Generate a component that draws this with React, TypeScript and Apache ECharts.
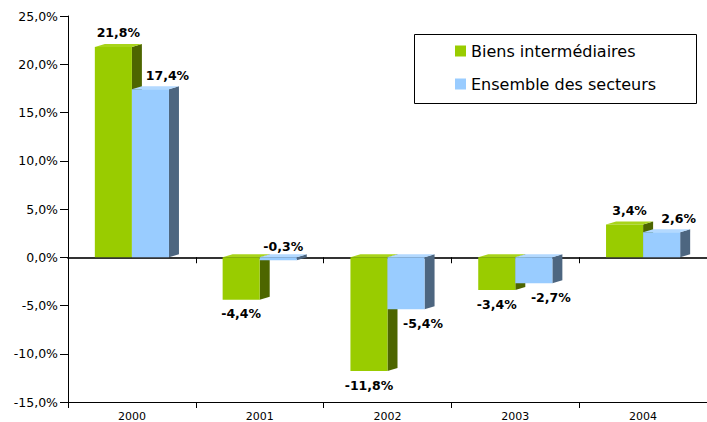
import React, { useEffect, useRef } from "react";
import * as echarts from "echarts";

const categories = ["2000", "2001", "2002", "2003", "2004"];
const seriesNames = ["Biens intermédiaires", "Ensemble des secteurs"];
const biensValues = [21.8, -4.4, -11.8, -3.4, 3.4];
const ensembleValues = [17.4, -0.3, -5.4, -2.7, 2.6];

const palettes = [
  { front: "#99CC00", side: "#4D6600", top: "#A8D41A" },
  { front: "#99CCFF", side: "#4D6680", top: "#B3D9FF" },
];

const fmt = (v: number) => v.toFixed(1).replace(".", ",") + "%";

function makeRender(si: number) {
  return (params: any, api: any) => {
    const idx = api.value(0);
    const val = api.value(1);
    const base = api.coord([idx, 0]);
    const end = api.coord([idx, val]);
    const catW = api.size([1, 0])[0];
    const w = catW * 0.29;
    const x0 = si === 0 ? base[0] - w : base[0];
    const x1 = x0 + w;
    const yTop = Math.min(base[1], end[1]);
    const yBot = Math.max(base[1], end[1]);
    const dx = 10;
    const dy = 3;
    const pal = palettes[si];
    const tiny = Math.abs(val) < 1;
    let lx = (x0 + x1 + dx) / 2;
    let ly: number;
    if (val >= 0 || tiny) {
      ly = yTop - 14;
      if (tiny) ly = base[1] - 11;
      else if (si === 1) lx += 12;
    } else {
      ly = yBot + 14;
      lx += si === 1 ? 12 : -5;
    }
    return {
      type: "group",
      children: [
        {
          type: "polygon",
          shape: { points: [[x1, yTop], [x1 + dx, yTop - dy], [x1 + dx, yBot - dy], [x1, yBot]] },
          style: { fill: pal.side },
        },
        {
          type: "polygon",
          shape: { points: [[x0, yTop], [x0 + dx, yTop - dy], [x1 + dx, yTop - dy], [x1, yTop]] },
          style: { fill: pal.top },
        },
        {
          type: "rect",
          shape: { x: x0, y: yTop, width: w, height: Math.max(yBot - yTop, 0.5) },
          style: { fill: pal.front },
        },
        {
          type: "text",
          style: {
            text: fmt(val),
            x: lx,
            y: ly,
            align: "center",
            verticalAlign: "middle",
            fontSize: 12.5,
            fontWeight: "bold",
            fontFamily: "DejaVu Sans",
            fill: "#000",
          },
        },
      ],
    };
  };
}

export default function App() {
  const ref = useRef<HTMLDivElement>(null);
  useEffect(() => {
    if (!ref.current) return;
    const chart = echarts.init(ref.current, undefined, { renderer: "svg" });
    const allValues = [biensValues, ensembleValues];
    chart.setOption({
      animation: false,
      backgroundColor: "#fff",
      textStyle: { fontFamily: "DejaVu Sans" },
      grid: { left: 68, right: -4, top: 16, bottom: 20, containLabel: false },
      legend: {
        orient: "vertical",
        left: 455,
        top: 41,
        padding: 0,
        itemWidth: 11,
        itemHeight: 11,
        itemGap: 13,
        icon: "rect",
        textStyle: { fontSize: 16, color: "#000", fontFamily: "DejaVu Sans", lineHeight: 20 },
        data: seriesNames,
      },
      graphic: [
        {
          type: "rect",
          left: 412,
          top: 32,
          shape: { width: 282, height: 69 },
          style: { fill: "none", stroke: "#000", lineWidth: 1 },
          silent: true,
        },
      ],
      xAxis: [
        {
          type: "category",
          data: categories,
          position: "bottom",
          axisLine: { onZero: false, lineStyle: { color: "#000", width: 1 } },
          axisTick: { show: true, length: 6, lineStyle: { color: "#000" } },
          axisLabel: { fontSize: 11, color: "#000", margin: 9, fontFamily: "DejaVu Sans" },
        },
        {
          type: "category",
          data: categories,
          position: "bottom",
          axisLine: { onZero: true, lineStyle: { color: "#333", width: 2 } },
          axisTick: { show: true, length: 6, lineStyle: { color: "#000" } },
          axisLabel: { show: false },
        },
      ],
      yAxis: {
        type: "value",
        min: -15,
        max: 25,
        interval: 5,
        axisLine: { show: true, lineStyle: { color: "#000" } },
        axisTick: { show: true, length: 8, lineStyle: { color: "#000" } },
        splitLine: { show: false },
        axisLabel: {
          formatter: (v: number) => fmt(v),
          fontSize: 12.5,
          color: "#000",
          margin: 10,
          fontFamily: "DejaVu Sans",
        },
      },
      series: seriesNames.map((name, si) => ({
        name,
        type: "custom",
        xAxisIndex: 0,
        yAxisIndex: 0,
        itemStyle: { color: palettes[si].front },
        renderItem: makeRender(si),
        encode: { x: 0, y: 1 },
        data: allValues[si].map((v, i) => [i, v]),
        z: 2 + si,
      })),
    });
    return () => chart.dispose();
  }, []);
  return <div ref={ref} style={{ width: 707, height: 422, position: "absolute", left: 0, top: 0 }} />;
}
